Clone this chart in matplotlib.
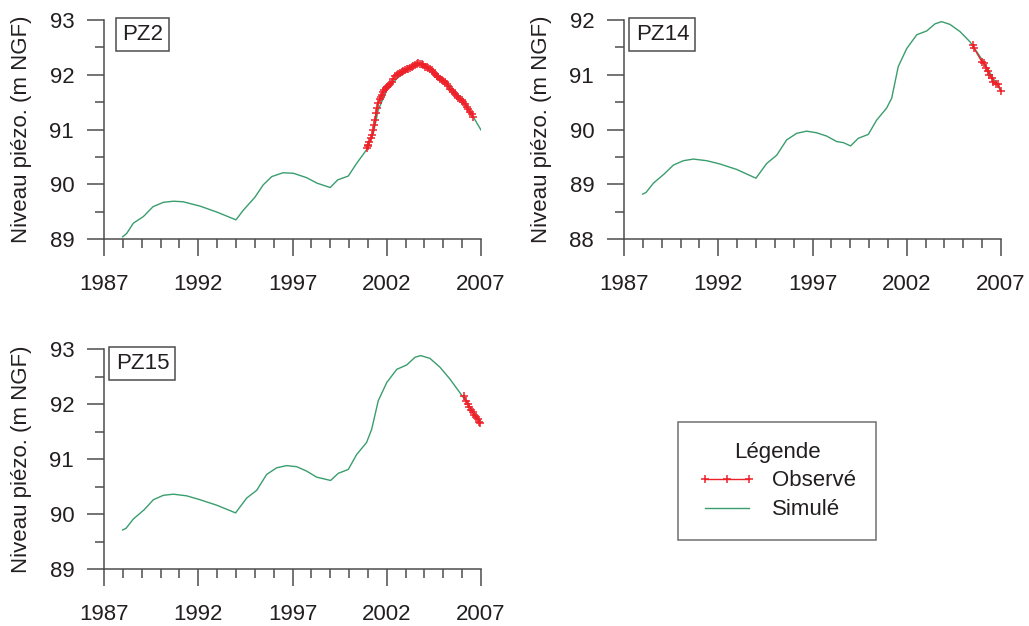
import matplotlib.pyplot as plt
from matplotlib.lines import Line2D
from matplotlib.ticker import FixedLocator, MultipleLocator

plt.rcParams['font.family'] = ['Liberation Sans', 'DejaVu Sans']

GREEN = '#3a9d6e'
RED = '#ee2028'
AXC = '#4d4d4d'

year_ticks = [1987, 1992, 1997, 2002, 2007]
year_minor = list(range(1987, 2008))

# simulated curves (decimal years)
pz2_sim_x = [1987.99, 1988.2, 1988.56, 1989.09, 1989.6, 1990.15, 1990.68, 1991.2, 1992.1, 1993.0,
             1994.0, 1994.4, 1995.0, 1995.45, 1995.9, 1996.5, 1997.05, 1997.75, 1998.3, 1999.0,
             1999.4, 1999.96, 2000.4, 2000.93, 2001.29, 2001.55, 2002.0, 2002.53, 2003.06, 2003.68,
             2004.3, 2005.0, 2005.7, 2006.42, 2007.0]
pz2_sim_y = [89.04, 89.10, 89.29, 89.41, 89.59, 89.67, 89.69, 89.68, 89.60, 89.49,
             89.35, 89.53, 89.76, 89.99, 90.14, 90.21, 90.20, 90.12, 90.02, 89.94,
             90.08, 90.15, 90.38, 90.63, 90.93, 91.36, 91.72, 91.93, 92.07, 92.22,
             92.10, 91.90, 91.66, 91.33, 90.99]

pz14_sim_x = [1987.99, 1988.17, 1988.56, 1989.14, 1989.62, 1990.15, 1990.68, 1991.39, 1992.09, 1992.98,
              1994.0, 1994.57, 1995.1, 1995.63, 1996.16, 1996.69, 1997.22, 1997.75, 1998.28, 1998.64,
              1999.02, 1999.43, 1999.96, 2000.4, 2000.93, 2001.2, 2001.55, 2002.0, 2002.53, 2003.06,
              2003.5, 2003.85, 2004.29, 2004.82, 2005.36, 2005.89, 2006.24, 2006.59, 2007.0]
pz14_sim_y = [88.82, 88.85, 89.02, 89.19, 89.35, 89.43, 89.46, 89.43, 89.37, 89.27,
              89.11, 89.38, 89.53, 89.81, 89.93, 89.97, 89.94, 89.88, 89.78, 89.76,
              89.70, 89.84, 89.91, 90.17, 90.39, 90.57, 91.15, 91.48, 91.73, 91.80,
              91.93, 91.97, 91.92, 91.79, 91.60, 91.33, 91.14, 90.93, 90.70]

pz15_sim_x = [1987.99, 1988.17, 1988.56, 1989.14, 1989.62, 1990.15, 1990.68, 1991.39, 1992.09, 1992.98,
              1993.98, 1994.57, 1995.1, 1995.63, 1996.16, 1996.69, 1997.22, 1997.75, 1998.28, 1999.02,
              1999.43, 1999.96, 2000.4, 2000.93, 2001.2, 2001.55, 2002.0, 2002.53, 2003.06, 2003.5,
              2003.8, 2004.29, 2004.82, 2005.36, 2006.06, 2007.0]
pz15_sim_y = [89.71, 89.74, 89.91, 90.08, 90.26, 90.34, 90.36, 90.33, 90.26, 90.16,
              90.02, 90.29, 90.43, 90.72, 90.84, 90.88, 90.86, 90.78, 90.67, 90.61,
              90.74, 90.81, 91.08, 91.30, 91.54, 92.06, 92.39, 92.63, 92.71, 92.85,
              92.88, 92.83, 92.67, 92.45, 92.12, 91.66]

# observed
pz2_obs_x = [2000.94, 2000.98, 2001.02, 2001.08, 2001.15, 2001.22, 2001.29, 2001.34, 2001.38, 2001.43,
             2001.49, 2001.55, 2001.62, 2001.68, 2001.73, 2001.80, 2001.87, 2001.94, 2002.00, 2002.08,
             2002.17, 2002.26, 2002.35, 2002.44, 2002.53, 2002.62, 2002.71, 2002.80, 2002.88, 2002.97,
             2003.06, 2003.15, 2003.23, 2003.32, 2003.41, 2003.50, 2003.58, 2003.67, 2003.76, 2003.85,
             2003.94, 2004.03, 2004.12, 2004.21, 2004.30, 2004.38, 2004.47, 2004.56, 2004.64, 2004.73,
             2004.82, 2004.91, 2005.00, 2005.09, 2005.18, 2005.27, 2005.35, 2005.44, 2005.53, 2005.62,
             2005.71, 2005.80, 2005.89, 2005.98, 2006.07, 2006.15, 2006.24, 2006.33, 2006.42, 2006.50,
             2006.59]
pz2_obs_y = [90.66, 90.70, 90.72, 90.78, 90.84, 90.90, 90.99, 91.08, 91.17, 91.30,
             91.40, 91.48, 91.55, 91.60, 91.63, 91.68, 91.72, 91.75, 91.78, 91.80,
             91.84, 91.87, 91.92, 91.97, 92.00, 92.02, 92.04, 92.05, 92.06, 92.08,
             92.10, 92.11, 92.12, 92.14, 92.16, 92.18, 92.19, 92.21, 92.20, 92.19,
             92.17, 92.15, 92.14, 92.12, 92.10, 92.09, 92.05, 92.01, 91.98, 91.96,
             91.93, 91.90, 91.88, 91.86, 91.84, 91.79, 91.74, 91.72, 91.69, 91.65,
             91.61, 91.58, 91.55, 91.54, 91.50, 91.46, 91.42, 91.37, 91.32, 91.28,
             91.23]

pz14_obs_x = [2005.50, 2005.58, 2005.98, 2006.10, 2006.20, 2006.29, 2006.38, 2006.51, 2006.59,
              2006.73, 2006.86, 2006.98]
pz14_obs_y = [91.54, 91.48, 91.24, 91.21, 91.12, 91.06, 91.00, 90.94, 90.87, 90.84, 90.84, 90.70]

pz15_obs_x = [2006.10, 2006.20, 2006.29, 2006.38, 2006.47, 2006.56, 2006.65, 2006.73, 2006.82,
              2006.89, 2006.96]
pz15_obs_y = [92.15, 92.06, 92.00, 91.95, 91.90, 91.86, 91.80, 91.76, 91.72, 91.68, 91.65]

panels = [
    ('PZ2', pz2_sim_x, pz2_sim_y, pz2_obs_x, pz2_obs_y, (89, 93), [104, 20, 481, 239]),
    ('PZ14', pz14_sim_x, pz14_sim_y, pz14_obs_x, pz14_obs_y, (88, 92), [624, 20, 1001, 239]),
    ('PZ15', pz15_sim_x, pz15_sim_y, pz15_obs_x, pz15_obs_y, (89, 93), [104, 349, 481, 569]),
]

W, H = 1029, 626
fig = plt.figure(figsize=(W / 100, H / 100), dpi=100)

for name, sx, sy, ox, oy, ylim, (l, t, r, b) in panels:
    ax = fig.add_axes([l / W, 1 - b / H, (r - l) / W, (b - t) / H])
    ax.plot(sx, sy, color=GREEN, lw=1.0, zorder=2)
    ax.plot(ox, oy, color=RED, lw=1.0, marker='+', ms=6, mew=1.1, zorder=3, clip_on=False)
    ax.set_xlim(1987, 2007)
    ax.set_ylim(*ylim)
    ax.xaxis.set_major_locator(FixedLocator(year_ticks))
    ax.xaxis.set_minor_locator(FixedLocator(year_minor))
    ax.yaxis.set_major_locator(MultipleLocator(1))
    ax.yaxis.set_minor_locator(MultipleLocator(0.5))
    for s in ['top', 'right']:
        ax.spines[s].set_visible(False)
    for s in ['left', 'bottom']:
        ax.spines[s].set_color(AXC)
        ax.spines[s].set_linewidth(1.1)
    ax.tick_params(which='major', direction='out', length=12.5, width=1.1, color=AXC,
                   labelsize=16, labelcolor='#231f20')
    ax.tick_params(which='minor', direction='out', length=6.5, width=1.1, color=AXC)
    ax.tick_params(axis='x', which='major', pad=13)
    ax.tick_params(axis='y', which='major', pad=9)
    ax.set_ylabel('Niveau piézo. (m NGF)', fontsize=16, color='#231f20')
    ax.yaxis.set_label_coords(-0.19, 0.5)
    ax.text(0.102, 0.935, name, transform=ax.transAxes, ha='center', va='center',
            fontsize=16, color='#231f20',
            bbox=dict(boxstyle='square,pad=0.28', fc='white', ec=AXC, lw=1.1))

handles = [
    Line2D([], [], color=RED, lw=1.0, marker='+', ms=6, mew=1.1),
    Line2D([], [], color=GREEN, lw=1.0),
]
leg = fig.legend(handles, ['Observé', 'Simulé'], title='Légende', loc='center',
                 bbox_to_anchor=(777 / W, 1 - 481 / H), fontsize=16, title_fontsize=16,
                 numpoints=3, handlelength=2.6, handletextpad=0.7, labelspacing=0.35,
                 fancybox=False, edgecolor=AXC, borderpad=0.9, borderaxespad=0)
leg.get_frame().set_linewidth(1.1)
for txt in leg.get_texts():
    txt.set_color('#231f20')
leg.get_title().set_color('#231f20')

fig.savefig('out.png', dpi=100)
